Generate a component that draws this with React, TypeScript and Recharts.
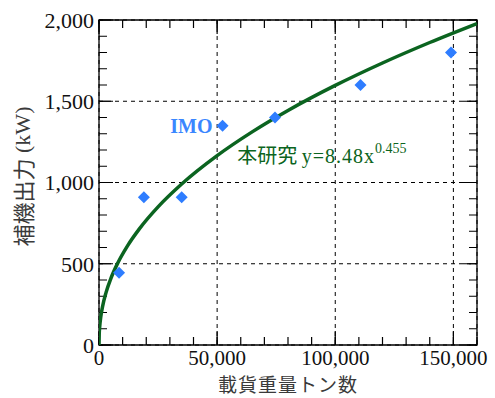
import {
  ComposedChart, Line, Scatter, XAxis, YAxis, CartesianGrid, ReferenceDot, ReferenceArea,
} from 'recharts';

// IMO reference points: deadweight tonnage vs auxiliary engine output
const IMO_DWT = [8500, 19000, 35000, 52300, 74500, 110700, 149000];
const IMO_KW = [445, 910, 910, 1350, 1400, 1600, 1800];

// fitted power law y = A * x^B
const FIT_A = 8.48;
const FIT_B = 0.455;
const FIT_DWT = [
  0, 100, 300, 700, 1500, 3000, 5000, 8000, 12000, 17000, 25000, 35000,
  50000, 65000, 80000, 100000, 120000, 140000, 160000,
];

const X_TICKS = [0, 50000, 100000, 150000];
const Y_TICKS = [0, 500, 1000, 1500, 2000];
const X_DOMAIN: [number, number] = [0, 160000];
const Y_DOMAIN: [number, number] = [0, 2000];
const X_MINOR = 10000;
const Y_MINOR = 100;

// chart box
const W = 495;
const H = 398;
const MARGIN = { top: 20, right: 18, left: 0, bottom: 0 };
const Y_AXIS_W = 99;
const X_AXIS_H = 53;
const PLOT_W = W - MARGIN.right - Y_AXIS_W;
const PLOT_H = H - MARGIN.top - X_AXIS_H;

const range = (max: number, step: number) =>
  Array.from({ length: Math.round(max / step) + 1 }, (_, i) => i * step);

const imoData = IMO_DWT.map((x, i) => ({ x, y: IMO_KW[i] }));
const fitData = FIT_DWT.map((x) => ({ x, y: FIT_A * Math.pow(x, FIT_B) }));

const xMinor = range(X_DOMAIN[1], X_MINOR);
const yMinor = range(Y_DOMAIN[1], Y_MINOR);

// a dash at each end of a grid line = inward tick on both sides of the frame
const endDash = (len: number, span: number) => `${len} ${span - 2 * len} ${len}`;

const SERIF = 'Liberation Serif';
const CJK = 'Noto Sans CJK JP';
const BLUE = '#2e7dff';
const GREEN = '#0b6420';
const TITLE = '#3a3a3a';
const fmt = (v: number) => v.toLocaleString('en-US');

function XTick({ x, y, payload }: any) {
  return (
    <text x={x} y={y} dy="0.71em" textAnchor="middle" fontSize={21} fill="#111" style={{ fontFamily: SERIF }}>
      {fmt(payload.value)}
    </text>
  );
}

function YTick({ x, y, payload }: any) {
  return (
    <text x={x} y={y} dy="0.355em" textAnchor="end" fontSize={22} fill="#111" style={{ fontFamily: SERIF }}>
      {fmt(payload.value)}
    </text>
  );
}

function Diamond({ cx, cy }: any) {
  const h = 6;
  return (
    <polygon points={`${cx},${cy - h} ${cx + h},${cy} ${cx},${cy + h} ${cx - h},${cy}`} fill={BLUE} />
  );
}

function FitLabel({ viewBox }: any) {
  const { x, y } = viewBox;
  return (
    <text x={x} y={y} fill={GREEN}>
      <tspan style={{ fontFamily: CJK }} fontSize={20}>本研究 </tspan>
      <tspan style={{ fontFamily: SERIF }} fontSize={20} letterSpacing={1}>y=8.48x</tspan>
      <tspan style={{ fontFamily: SERIF }} fontSize={14} dy={-10}>0.455</tspan>
    </text>
  );
}

function YTitle({ viewBox }: any) {
  const cx = viewBox.x + 22;
  const cy = viewBox.y + viewBox.height / 2 - 6;
  return (
    <text x={cx} y={cy} transform={`rotate(-90, ${cx}, ${cy})`} textAnchor="middle"
      dominantBaseline="central" fontSize={22} fill={TITLE}>
      <tspan style={{ fontFamily: CJK }}>補機出力</tspan>
      <tspan style={{ fontFamily: SERIF }}> (kW)</tspan>
    </text>
  );
}

export default function App() {
  return (
    <div style={{ position: 'absolute', left: 0, top: 0, background: '#fff' }}>
      <ComposedChart width={W} height={H} margin={MARGIN}>
        <CartesianGrid stroke="#000" strokeDasharray="4 4" />
        {/* inward frame ticks */}
        <CartesianGrid
          horizontal={false} verticalValues={xMinor} stroke="#000" strokeWidth={1.2}
          strokeDasharray={endDash(8, PLOT_H)}
        />
        <CartesianGrid
          vertical={false} horizontalValues={yMinor} stroke="#000" strokeWidth={1.2}
          strokeDasharray={endDash(8, PLOT_W)}
        />
        <CartesianGrid
          horizontal={false} verticalValues={X_TICKS} stroke="#000" strokeWidth={1.2}
          strokeDasharray={endDash(14, PLOT_H)}
        />
        <CartesianGrid
          vertical={false} horizontalValues={Y_TICKS} stroke="#000" strokeWidth={1.2}
          strokeDasharray={endDash(14, PLOT_W)}
        />
        <XAxis
          dataKey="x" type="number" domain={X_DOMAIN} ticks={X_TICKS} interval={0}
          allowDataOverflow height={X_AXIS_H} tickLine={false} axisLine={false}
          tickSize={0} tickMargin={5} tick={<XTick />}
          label={{ value: '載貨重量トン数', position: 'insideBottom', offset: 6, fontSize: 19, letterSpacing: 1, style: { fontFamily: CJK }, fill: TITLE }}
        />
        <YAxis
          type="number" domain={Y_DOMAIN} ticks={Y_TICKS} interval={0}
          allowDataOverflow width={Y_AXIS_W} tickLine={false} axisLine={false}
          tickSize={0} tickMargin={5} tick={<YTick />}
          label={<YTitle />}
        />
        <Line
          data={fitData} dataKey="y" type="monotone" stroke={GREEN} strokeWidth={3.5}
          dot={false} activeDot={false} isAnimationActive={false}
        />
        <Scatter data={imoData} dataKey="y" shape={<Diamond />} isAnimationActive={false} />
        <ReferenceDot
          x={IMO_DWT[3]} y={IMO_KW[3]} r={0} fill="none" stroke="none"
          label={{ value: 'IMO', position: 'left', offset: 10, fontSize: 20, fontWeight: 'bold', style: { fontFamily: SERIF }, fill: '#3a86ff' }}
        />
        <ReferenceDot x={58500} y={1120} r={0} fill="none" stroke="none" label={<FitLabel />} />
        {/* plot frame */}
        <ReferenceArea
          x1={X_DOMAIN[0]} x2={X_DOMAIN[1]} y1={Y_DOMAIN[0]} y2={Y_DOMAIN[1]}
          fill="none" fillOpacity={0} stroke="#000" strokeWidth={1.3}
        />
      </ComposedChart>
    </div>
  );
}
